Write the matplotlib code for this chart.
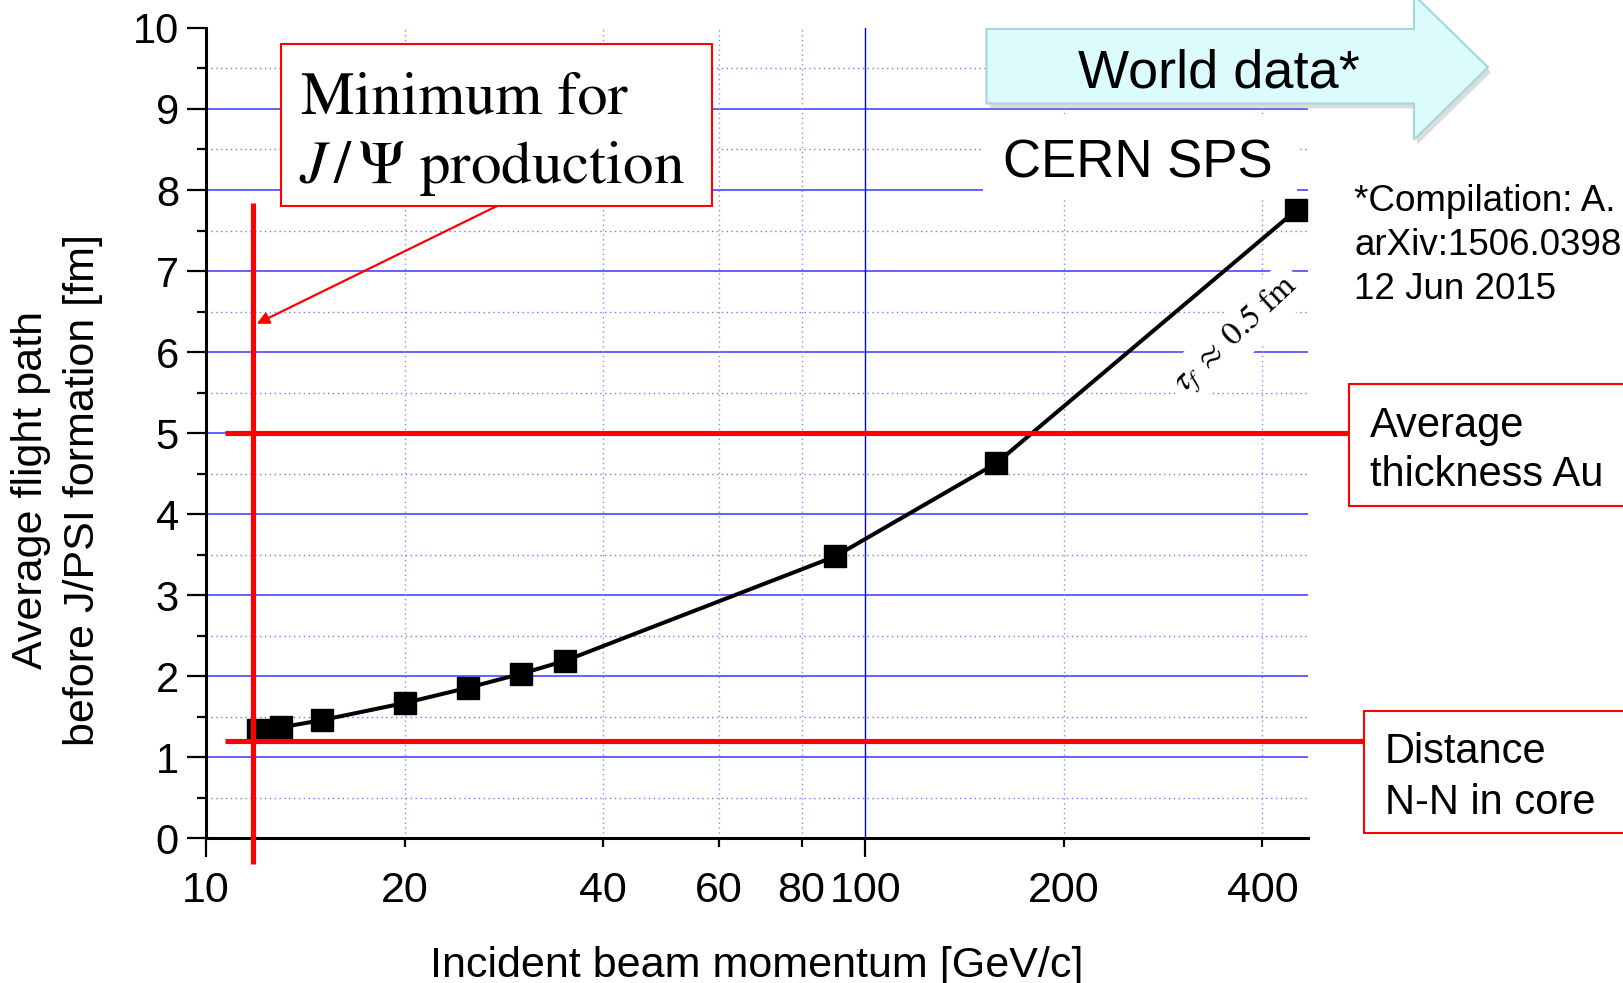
import matplotlib
matplotlib.use('Agg')
import matplotlib.pyplot as plt
from matplotlib.patches import Rectangle, Polygon
from matplotlib import font_manager

W, H = 1623, 983

# beam momentum [GeV/c] vs average flight path before J/PSI formation [fm]
momentum = [12, 13, 15, 20, 25, 30, 35, 90, 158, 450]
flight_path = [1.34, 1.37, 1.46, 1.67, 1.86, 2.03, 2.19, 3.48, 4.63, 7.75]

threshold_p = 11.8      # minimum momentum for J/Psi production
au_thickness = 5.0      # average thickness of Au [fm]
nn_distance = 1.2       # N-N distance in core [fm]

x_major = [10, 100]
x_minor = [20, 40, 60, 80, 200, 400]
y_major = [0, 1, 2, 3, 4, 5, 6, 7, 8, 9, 10]
y_minor = [0.5, 1.5, 2.5, 3.5, 4.5, 5.5, 6.5, 7.5, 8.5, 9.5]

names = {f.name for f in font_manager.fontManager.ttflist}
narrow = 'Liberation Sans Narrow' in names
plt.rcParams['font.family'] = 'Liberation Sans'
plt.rcParams['mathtext.fontset'] = 'stix'

fig = plt.figure(figsize=(W / 100, H / 100), dpi=100)
ax = fig.add_axes([206 / W, 1 - 838.4 / H, 1102 / W, 810.5 / H])
ax.set_xscale('log')
ax.set_xlim(10, 469)
ax.set_ylim(0, 10)


def box(x0, y0, x1, y1, **kw):
    # rectangle in figure pixels, measured from the top-left corner
    fig.add_artist(Rectangle((x0 / W, 1 - y1 / H), (x1 - x0) / W, (y1 - y0) / H,
                             transform=fig.transFigure, **kw))


def ftext(x, y, s, **kw):
    return fig.text(x / W, 1 - y / H, s, **kw)


# grid
for v in y_major[1:-1]:
    ax.axhline(v, color='#5656ff', lw=1.3, zorder=1)
for v in y_minor:
    ax.axhline(v, color='#7777ff', lw=1.0, ls=(0, (1, 2.5)), zorder=1)
for v in x_minor:
    ax.axvline(v, color='#8888ff', lw=1.0, ls=(0, (1, 2.5)), zorder=1)
ax.axvline(100, color='#0000ff', lw=1.0, zorder=1)

# data
ax.plot(momentum, flight_path, color='black', lw=2.9, marker='s', ms=16.5, zorder=3)

# reference lines
red_kw = dict(color='red', lw=3.7, clip_on=False, zorder=4, solid_capstyle='butt')
ax.plot([threshold_p, threshold_p], [-0.32, 7.84], **red_kw)
ax.plot([10.7, 541], [au_thickness, au_thickness], **red_kw)
ax.plot([10.7, 571], [nn_distance, nn_distance], **red_kw)

# axes styling
for side in ['top', 'right']:
    ax.spines[side].set_visible(False)
for side in ['left', 'bottom']:
    ax.spines[side].set_linewidth(2.2)

ax.set_xticks(x_major, [str(v) for v in x_major])
ax.set_xticks(x_minor, [str(v) for v in x_minor], minor=True)
ax.set_yticks(y_major, [str(v) for v in y_major])
ax.set_yticks(y_minor, minor=True)
xsize = 35 if narrow else 31
ax.tick_params(which='major', direction='out', length=13.5, width=1.6)
ax.tick_params(which='minor', direction='out', length=6.5, width=1.6)
ax.tick_params(axis='y', labelsize=30, pad=6)
ax.tick_params(axis='x', which='major', labelsize=xsize, pad=10)
ax.tick_params(axis='x', which='minor', labelsize=xsize, pad=17)
if narrow:
    for lab in ax.get_xticklabels() + ax.get_xticklabels(minor=True):
        lab.set_fontfamily('Liberation Sans Narrow')

ftext(57, 490, 'Average flight path\nbefore J/PSI formation [fm]', rotation=90,
      ha='center', va='center', fontsize=31, linespacing=1.38)
ftext(757, 977, 'Incident beam momentum [GeV/c]', ha='center', va='baseline', fontsize=31)

# "World data" block arrow
arrow_pts = [(986.5, 29), (1414, 29), (1414, -5), (1488, 67.3),
             (1414, 139.7), (1414, 103.5), (986.5, 103.5)]
shadow = Polygon([((x + 3) / W, 1 - (y + 5) / H) for x, y in arrow_pts],
                 closed=True, transform=fig.transFigure, fc='#a8a8a8', ec='none', alpha=0.4)
fig.add_artist(shadow)
fig.add_artist(Polygon([(x / W, 1 - y / H) for x, y in arrow_pts], closed=True,
                       transform=fig.transFigure, fc='#dcfbfc', ec='#a6d6d8', lw=1.5))
ftext(1219, 88, 'World data*', ha='center', va='baseline', fontsize=39)

box(983, 114, 1297, 197, fc='white', ec='none')
ftext(1138, 177, 'CERN SPS', ha='center', va='baseline', fontsize=38)

ftext(1354, 211, '*Compilation: A.', ha='left', va='baseline', fontsize=26.5)
ftext(1354, 255, 'arXiv:1506.0398', ha='left', va='baseline', fontsize=26.5)
ftext(1354, 299, '12 Jun 2015', ha='left', va='baseline', fontsize=26.5)

# threshold annotation
box(280.5, 44.5, 712, 206, fc='white', ec='red', lw=1.5)
ftext(301, 114, 'Minimum for', ha='left', va='baseline', fontsize=43.5, family='STIXGeneral')
ftext(299, 183, r'$J\,/\,\Psi$ production', ha='left', va='baseline', fontsize=44,
      family='STIXGeneral')
ax.annotate('', xy=(11.94, 6.35), xytext=(497 / W, 1 - 206 / H),
            textcoords='figure fraction', annotation_clip=False,
            arrowprops=dict(arrowstyle='-|>', color='red', lw=1.6,
                            mutation_scale=18, shrinkA=0, shrinkB=0))

box(1349, 384, 1700, 506, fc='white', ec='red', lw=1.5)
ftext(1370, 437, 'Average', ha='left', va='baseline', fontsize=30)
ftext(1370, 486, 'thickness Au', ha='left', va='baseline', fontsize=30)

box(1364, 711, 1700, 833, fc='white', ec='red', lw=1.5)
ftext(1385, 763, 'Distance', ha='left', va='baseline', fontsize=30)
ftext(1385, 814, 'N-N in core', ha='left', va='baseline', fontsize=30)

ftext(1237, 335, r'$\tau_f\;\approx\;0.5$ fm', rotation=43, rotation_mode='anchor',
      ha='center', va='center', fontsize=24, family='STIXGeneral',
      bbox=dict(fc='white', ec='none', pad=4))

fig.savefig('out.png', dpi=100)
